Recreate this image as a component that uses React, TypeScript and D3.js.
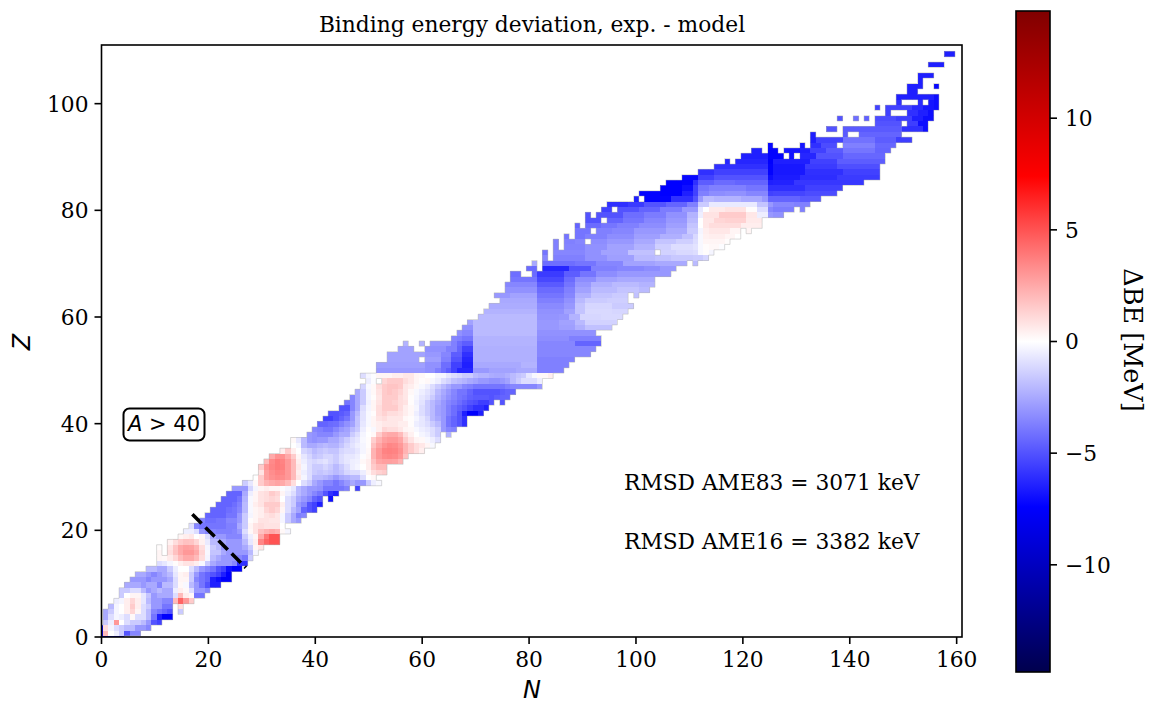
import React from 'react';
import * as d3 from 'd3';

// Z = 0..49, each row holds segments [first N, value, value, ...] in MeV
const lowerRows: number[][][] = [
  [[0, -7, -7, -7, -7, -7]],
  [[0, -7, 2, 0, -.5, -1.5, -5, -3.5, -3.5]],
  [[0, -7, 1, -.3, -1, -1.5, -2, -2, -3, -3, -3.5]],
  [[1, -1.5, -.5, 3, 0, -1, -1.5, -1.5, -2, -3, -5, -5.5]],
  [[1, -2.5, -1, -.3, -.5, -1, .2, -1, -1, -2, -4, -6.5, -7.5, -7.5]],
  [[1, -2.5, -1.5, -.3, 0, .5, 1.2, .3, -1, -2, -3.5, -4, -4.5, -5], [15, -1.5]],
  [[2, -2, -.3, 0, .5, 1.5, .5, -1, -1.5, -3, -3, -4, -4], [15, 1]],
  [[3, -.5, -.3, .5, 1.2, .5, -.7, -2, -3, -3, -3.5, -3.5, 2, 4.5, 3, 1.5]],
  [[4, -1.5, 0, .3, .3, -.7, -1.7, -3, -2.5, -2.5, -2.5, -1, 2, .5, .2, -4, -4]],
  [[4, -1.5, -1.5, -1, -1, -2, -3, -2.5, -2, -2.5, -2.5, -.5, .5, .2, -1, -3, -3, -3.5]],
  [[5, -2.5, -2.5, -2.5, -3, -2.5, -2.5, -3.5, -2, -2, -1, .2, -.2, -2, -3, -4, -5, -6.5, -6.5]],
  [[6, -3, -3, -3, -3.5, -3, -3, -3, -2.5, -1, .3, .3, -1.5, -3.5, -4, -4.5, -6.5, -7, -7.5, -7.5]],
  [[7, -2.5, -2.5, -3, -3.5, -3, -2.5, -2, -.7, .3, .5, -1.5, -3, -4, -4.5, -5, -5.5, -6.5, -7.4]],
  [[9, -2, -2, -2.5, -2.5, -1.5, -.5, 0, 0, -1, -2, -3, -3.5, -4, -5, -5.5, -7, -7.4, -7.4]],
  [[11, -1, -.7, -.3, .1, .5, .8, .8, .5, -.2, -1.5, -2.5, -3, -3, -3, -3.5, -6, -6]],
  [[11, .3, .2, .6, 1.2, 2, 2.5, 2.5, 2, 1, -.3, -2, -2.5, -3, -3, -3, -3.5, -4, -1.5]],
  [[11, .3], [13, 1, 1.8, 2.5, 3, 3, 2.5, 1.2, -.2, -1.7, -1.7, -2.5, -3, -3, -3, -3, -2, -.3]],
  [[11, .1], [13, .8, 1.7, 2.5, 2.8, 2.7, 2.2, 1, -.3, -1.5, -2, -3, -3, -3, -3, -2.5, -1.5, .3, .7]],
  [[13, .4, 1, 1.5, 1.8, 1.7, 1.2, .4, -.6, -2, -2, -2.5, -3, -3, -3, -2, -.7, .5, 3.5, 4.5, 5, 5]],
  [[15, .3, .5, .7, 0, .3, -1, -2.5, -3, -3, -3.5, -3.5, -3.5, -1.5, -.5, .3, 2.5, 4, 5, 5]],
  [[16, -.5, -.5, -1, -3, -3.5, -3.5, -3.7, -3.7, -3.7, -3.5, -3, -1, .2, .8, 1.8, 2.2, 2.5, 2.2, .2, -.3]],
  [[17, -1, -3.5, -4, -4, -4, -4, -4, -3.7, -3.7, -2.5, -1.5, .3, .8, 1, .8, .8, .8, 0]],
  [[19, -3.7, -4.2, -4.2, -4, -4, -3.5, -3.5, -3, -1.5, .1, .3, .8, .8, .7, .7, -.3, -1.5, -2.5, -3]],
  [[20, -4.5, -4.5, -4.5, -4.5, -4, -4, -3, -1.5, -.3, .3, .5, .8, 1, .7, -.3, -1.5, -2.5, -3.7, -3.5]],
  [[21, -4.5, -4.5, -4.5, -4.2, -4, -3.5, -2, -.2, .3, .5, 1.2, 1.5, 1.2, .3, -1, -2, -2.7, -4.5, -5, -5.5]],
  [[22, -4.5, -4.5, -4.5, -4.2, -3.7, -2, -.2, .5, .8, 1.5, 1.5, 1.5, .5, -1, -1.5, -3, -3.5, -5, -5.5, -6.5]],
  [[23, -4.5, -4.5, -4.5, -4, -2.2, -.2, .3, .8, 1, 1.2, 1, 0, -1, -1.5, -2.5, -3, -3.5, -4.5, -5], [43, -7]],
  [[24, -4.5, -4.5, -4.5, -2.5, -.5, .3, .8, 1, 1.5, 1.2, .3, -.5, -1, -2, -2.5, -3, -3.5, -4, -5, -6, -6.5]],
  [[25, -3, -3, -3, -1.2, -.3, .3, .5, .3, .3, -.1, -.3, -.7, -2, -2.5, -3, -3, -3.2, -4, -4, -4, -4, -3.7], [48, -5.5]],
  [[27, -1.5, -.7, .2, 1.5, 2.2, 2.5, 2.7, 2.5, 2, 1, 0, -1, -1.5, -2.5, -3, -3.5, -3.5, -4, -3.5, -3, -2.5, -3, -3, -1.5, -.5, -.2]],
  [[29, 0, 1.5, 2.8, 3.2, 3.4, 3.3, 3, 2, .7, -.3, -1, -2, -2, -2.2, -2.5, -3, -2.5, -2.3, -2, -2, -1, 0, .2]],
  [[30, .8, 2.8, 3.3, 3.6, 3.5, 3, 2, .5, -.5, -1, -1.5, -1.7, -1.5, -1.7, -2, -1.7, -1.2, -1, -1, -.5, .3, 1, 1.3, 1.5]],
  [[30, 1.5, 3, 3.5, 3.8, 3.7, 3, 2, .7, -.3, -1, -1.5, -1.5, -1.2, -1.5, -2, -1.5, -1, -.5, -.3, 0, .5, 1.5, 2, 2]],
  [[31, 2, 3.4, 3.8, 3.6, 3, 2, .5, -.5, -1, -1.2, -1, -.8, -1.2, -1.5, -1, -.7, -.5, -.4, .2, .5, 1.8, 2.6, 2.8, 2.8, 2.7, 2.2]],
  [[32, 2.5, 3.2, 3.2, 2.5, 1.5, .3, -.7, -1.2, -1.7, -1.5, -1.2, -1.2, -1.5, -1, -.7, -.7, -.5, -.1, .3, 2.2, 3, 3.4, 3.5, 3.4, 3, 1.8]],
  [[34, .5, 1.5, .5, 0, -1.2, -1.5, -2, -1.7, -1.5, -1.7, -1.7, -1.2, -1, -1, -.7, -.3, .2, 2.2, 3, 3.6, 3.7, 3.6, 3.2, 2.2, 1.5, 1, .5]],
  [[36, 0, -.3, -2, -2.5, -2.5, -2.2, -2, -2.2, -2.2, -1.7, -1.2, -.8, -.5, -.3, .1, 1.8, 2.6, 3.2, 3.5, 3.4, 3, 2.2, 1.5, 1, .7, .3, -.2]],
  [[36, .2, -.7, -2, -3, -3.2, -3, -3, -2.5, -2.5, -2, -1.5, -1, -.7, -.2, .1, 1.4, 2.2, 2.8, 3, 3, 2.6, 1.5, .8, .3, .2, -.2, -.5, -1]],
  [[39, -3, -3.2, -3.5, -3.5, -3.5, -3, -2.5, -2.5, -1.5, -1, -.3, 0, .2, 1.5, 2.3, 2.5, 2.5, 2, 1, .4, 0, -.3, -.5, -1, -1.5], [65, -2.2]],
  [[40, -3.5, -3.7, -4, -4, -3.5, -3, -2.7, -2, -1.5, -.5, .1, -.2, .5, 1.2, 1, 1, .7, .3, .2, -.2, -.5, -.7, -1, -1.5, -3, -3.5, -3.7]],
  [[41, -4.5, -4.5, -4.3, -4.2, -3.7, -3.2, -2.7, -1.7, -.7, -.2, .3, .5, .7, .7, .7, .5, .5, .1, -.5, -.7, -1, -1.5, -2, -3, -4, -4.5, -5, -6]],
  [[42, -5.5, -5.5, -5, -4.5, -4, -3, -1.7, -.8, -.2, .3, .8, 1, .7, .7, .7, .2, .1, -.3, -.7, -1.2, -2, -2.5, -3, -4, -4.5, -5, -6]],
  [[43, -5, -5, -4.8, -4.5, -3, -2, -.8, -.2, .1, 1, 1.3, 1, 1, .8, .5, .2, -.5, -1, -1.5, -2, -2.7, -3, -3.7, -4.2, -5, -6.5, -7.5, -7.5, -6.5]],
  [[45, -5, -5, -3.5, -2.5, -1, -.3, .3, 1, 1.5, 1.5, 1.5, 1, .5, .2, -.3, -1, -1.5, -2, -2.7, -3, -3.7, -4.2, -4.6, -5, -5.5, -6, -6, -6.5]],
  [[46, -4, -3.5, -2.5, -1.5, -.4, .3, .8, 1.5, 1.5, 1.3, 1, .8, .1, -.4, -.8, -1.5, -2, -2.5, -3, -3.5, -3.8, -4.2, -4.6, -5, -5.2, -5.6, -5.6, -5], [75, -5]],
  [[47, -3.5, -2.5, -1.5, -.3, .1, .7, 1.5, 1.5, 1.5, 1, .7, .1, -.3, -.7, -1, -1.5, -2.2, -2.7, -3.2, -3.6, -4, -4.2, -4.6, -4.8, -4.8, -4.8, -5, -4.7, -4.5, -4.5]],
  [[48, -2.5, -1.5, -.3, .2, .8, 1.5, 1.7, 1.5, 1.2, .7, .2, -.2, -.5, -.8, -1.2, -2, -2.5, -3, -3.5, -4, -4, -4.5, -5, -5, -5, -5, -5, -4.7, -4.5, -4.5]],
  [[49, -1.2, -.2, .2, 1, 1.5, 1.7, 1.7, 1.5, .7, .5, .2, -.2, -.5, -1, -1.5, -2, -2.5, -3, -3, -3.5, -3.7, -4, -4, -4, -4, -4, -4, -3.7, -3.5, -3.5, -3.5, -3.5, -3.5, -3]],
  [[50, -.5, -.1], [53, 1.2, 1.5, 1.5, 1.5, 1, .7, .3, .1, .2, -.2, -.5, -1, -1.3, -1.8, -2, -2.2, -2.5, -2.7, -3, -3, -3.2, -3.2, -3, -2.7, -2, -1.5, -1, -1, -1, -.5]],
  [[49, -1, -.3, -.1, .3, .3, .3, .5, .5, .7, .7, .3, .2, 0, 0, -.3, -.3, -.7, -1, -1.2, -1.5, -1.5, -2, -2.2, -2.2, -2.4, -2.5, -2.5, -2.3, -2, -1.7, -1.5, -.7, -.2, .2, .2, .5]],
];

// Z = 50..109, each row holds runs [first N, last N, value] in MeV
const upperRows: number[][][] = [
  [[52, 60, -3], [61, 62, -3.2], [63, 63, -3.7], [64, 64, -4.2], [65, 65, -4.7], [66, 66, -5.5], [67, 69, -6.3], [70, 72, -3], [73, 77, -2.7], [78, 81, -2.5], [82, 86, -3.7]],
  [[52, 60, -2.8], [61, 63, -3.2], [64, 65, -4.2], [66, 67, -5.5], [68, 69, -6.5], [70, 78, -2.5], [79, 81, -2.2], [82, 87, -3.7]],
  [[54, 59, -2.7], [61, 63, -2.8], [64, 65, -3.7], [66, 67, -5], [68, 69, -6.3], [70, 81, -2.3], [82, 88, -3.7]],
  [[54, 60, -2.7], [61, 63, -3], [64, 65, -3.5], [66, 67, -4.7], [68, 69, -6], [70, 81, -2.3], [82, 91, -3.5]],
  [[56, 58, -2.7], [61, 64, -3.2], [65, 66, -3.7], [67, 67, -4.5], [68, 69, -5.5], [70, 81, -2.3], [82, 92, -3.5]],
  [[57, 57, -2.2], [60, 60, -2.2], [62, 65, -3], [66, 66, -3.7], [67, 67, -4.3], [68, 69, -4.7], [70, 81, -2.2], [82, 88, -3.5], [89, 93, -4.5]],
  [[66, 66, -3.5], [67, 67, -3.7], [68, 69, -4], [70, 81, -2.2], [82, 87, -3.3], [88, 93, -3.7]],
  [[67, 67, -3.2], [68, 69, -3.5], [70, 81, -2], [82, 87, -3.2], [88, 92, -3.2]],
  [[68, 69, -3.2], [70, 81, -2], [82, 85, -3], [86, 88, -2.8], [89, 90, -2.3], [91, 95, -1.8]],
  [[69, 69, -2.7], [70, 81, -2], [82, 85, -3], [86, 88, -2.7], [89, 90, -2], [91, 96, -1.3]],
  [[71, 81, -2], [82, 85, -3.1], [86, 87, -3], [88, 89, -2.2], [90, 93, -1.2], [94, 97, -1.1]],
  [[72, 81, -2.2], [82, 86, -3.2], [87, 88, -2.7], [89, 90, -1.7], [91, 95, -1.1], [96, 98, -1.2]],
  [[73, 81, -2.4], [82, 86, -3.4], [87, 88, -3], [89, 90, -1.7], [91, 95, -1.2], [96, 99, -1.5]],
  [[75, 81, -2.5], [82, 86, -3.7], [87, 88, -3.2], [89, 90, -2], [91, 94, -1.5], [95, 98, -1.4]],
  [[74, 76, -3], [77, 81, -2.7], [82, 86, -4], [87, 88, -3.5], [89, 91, -2.3], [92, 95, -1.7], [96, 98, -1.5], [100, 100, -1.8]],
  [[76, 81, -3.2], [82, 86, -4.3], [87, 88, -3.7], [89, 91, -2.7], [92, 96, -2], [97, 100, -1.7], [101, 102, -2]],
  [[76, 81, -3.5], [82, 86, -4.8], [87, 88, -4], [89, 91, -3], [92, 95, -2.3], [96, 100, -2], [101, 103, -2.2]],
  [[77, 81, -4], [82, 86, -5.3], [87, 88, -4.3], [89, 92, -3.3], [93, 96, -2.7], [97, 103, -2.5]],
  [[77, 78, -4.2], [81, 81, -4.3], [82, 86, -5.7], [87, 89, -4.7], [90, 92, -4], [93, 96, -3.3], [97, 106, -3]],
  [[80, 81, -4.3], [83, 87, -6.3], [88, 91, -5], [92, 96, -3.7], [97, 101, -3.5], [102, 104, -3.3], [105, 107, -3]],
  [[81, 81, -2.5], [83, 88, -4.2], [89, 92, -4], [93, 97, -3.5], [98, 103, -2.7], [104, 109, -2.5], [111, 111, -2]],
  [[83, 83, -3.5], [85, 90, -3.7], [91, 94, -3.2], [95, 99, -2.8], [100, 103, -2], [104, 106, -1.8], [107, 110, -1.6], [111, 112, -1.5], [113, 113, -1.2]],
  [[83, 83, -4], [85, 90, -3.5], [91, 93, -3.2], [94, 98, -2.7], [99, 103, -1.8], [105, 107, -1.3], [108, 110, -1.1], [111, 111, -1], [112, 112, -.2], [113, 113, .1], [114, 114, -.3]],
  [[85, 85, -3.7], [87, 90, -3.6], [91, 94, -3.2], [95, 99, -2.7], [100, 103, -2.2], [104, 106, -1.4], [107, 110, -1], [111, 111, -.8], [112, 112, -.2], [113, 113, .1], [114, 115, .2], [116, 116, -.1]],
  [[85, 85, -3.7], [87, 88, -3.7], [89, 90, -3.5], [92, 94, -3.3], [95, 99, -3], [100, 103, -2.5], [104, 107, -1.7], [108, 110, -1.4], [111, 111, -1], [112, 112, -.2], [113, 116, .3], [117, 117, .1]],
  [[87, 87, -4], [89, 90, -4], [91, 94, -3.7], [95, 99, -3.3], [100, 104, -2.8], [105, 108, -2.3], [109, 110, -1.8], [111, 111, -1.1], [112, 112, -.2], [113, 113, .4], [114, 116, .5], [117, 118, .3], [119, 119, 0]],
  [[89, 91, -4], [93, 95, -3.7], [96, 99, -3.5], [100, 105, -3], [106, 109, -2.5], [110, 111, -1.5], [112, 112, -.3], [113, 113, .5], [114, 117, .7], [118, 119, .3], [121, 121, .3]],
  [[89, 89, -4.5], [91, 93, -4.3], [94, 96, -4], [97, 100, -3.7], [101, 105, -3.3], [106, 109, -2.8], [110, 111, -1.7], [112, 112, 0], [113, 113, .7], [114, 119, 1], [120, 123, .5]],
  [[91, 93, -5], [95, 97, -4.5], [98, 101, -4], [102, 105, -3.5], [106, 109, -3], [110, 111, -2], [112, 112, 0], [113, 114, .7], [115, 116, 1.2], [117, 120, 1.3], [121, 123, .6]],
  [[91, 91, -5], [93, 97, -5], [98, 101, -4.2], [102, 105, -3.8], [106, 109, -3.2], [110, 111, -2.2], [112, 112, -.5], [113, 115, .8], [116, 120, 1.5], [121, 122, .7], [123, 124, -.5], [125, 125, -3], [126, 127, -3.2]],
  [[94, 95, -5.5], [97, 100, -5], [101, 104, -4.5], [105, 108, -3.8], [109, 111, -3], [112, 112, -.7], [113, 113, 0], [114, 116, .6], [117, 120, .8], [121, 122, .1], [123, 124, -1], [125, 125, -3.5], [126, 129, -3.8], [131, 131, -3.7]],
  [[95, 98, -6], [99, 101, -5.7], [102, 105, -5], [106, 109, -4.5], [110, 111, -3.7], [112, 113, -1.5], [114, 122, -.6], [123, 124, -1.7], [125, 125, -3], [126, 129, -3.5], [130, 132, -3.7]],
  [[100, 100, -6.5], [102, 106, -7.3], [107, 110, -6], [111, 111, -5], [112, 112, -3], [113, 114, -2], [115, 119, -2.2], [120, 123, -2.5], [124, 124, -3], [125, 130, -4.5], [131, 134, -4.8]],
  [[101, 104, -7.3], [105, 108, -7.4], [109, 110, -6.5], [111, 111, -5.5], [112, 113, -3.7], [114, 116, -3.3], [117, 120, -3.2], [121, 124, -3.5], [125, 125, -5.5], [126, 131, -5.4], [132, 137, -5.2]],
  [[105, 108, -7.4], [109, 110, -7], [111, 111, -5.5], [112, 113, -4], [114, 120, -3.7], [121, 124, -4], [125, 125, -6], [126, 131, -6], [132, 138, -5.5]],
  [[106, 108, -7.4], [109, 110, -7.3], [111, 111, -6], [112, 114, -4.7], [115, 118, -4.3], [119, 124, -4.5], [125, 125, -6.5], [126, 129, -6.4], [130, 142, -5.8]],
  [[109, 111, -7.2], [112, 114, -5.5], [115, 124, -5], [125, 125, -7], [126, 130, -6.6], [131, 137, -6.1], [138, 145, -5.7]],
  [[112, 114, -6], [115, 124, -5.5], [125, 125, -7.3], [126, 131, -6.7], [132, 138, -6], [139, 145, -5.5]],
  [[115, 116, -6], [117, 124, -6], [125, 125, -7.3], [126, 131, -6.7], [132, 137, -5.7], [138, 145, -5.1]],
  [[117, 117, -6.3], [119, 124, -6.3], [125, 125, -7.4], [126, 132, -6.5], [133, 137, -5.5], [138, 146, -4.7]],
  [[120, 124, -6.5], [125, 127, -7.3], [129, 129, -6.9], [131, 133, -6.3], [134, 138, -5], [139, 146, -4.4]],
  [[122, 123, -6.5], [125, 126, -7.3], [128, 130, -6.8], [131, 132, -6.5], [133, 135, -5.5], [136, 138, -4.8], [139, 144, -4], [145, 147, -4.5]],
  [[125, 125, -7.2], [131, 131, -6.8], [133, 134, -6], [135, 137, -5.2], [139, 144, -3.7], [145, 148, -4.4]],
  [[133, 133, -6.5], [134, 138, -5.5], [139, 144, -4.1], [145, 148, -4.7], [149, 151, -5.6]],
  [[133, 133, -6.5], [139, 139, -4.8], [142, 149, -4.5]],
  [[136, 137, -5], [139, 149, -4.8], [150, 153, -6], [154, 154, -7]],
  [[145, 149, -5], [151, 152, -5.6], [153, 154, -7]],
  [[138, 138, -5], [141, 141, -4.2], [143, 143, -4.6], [145, 148, -5.2], [149, 151, -5.6], [152, 153, -6.5], [154, 155, -7]],
  [[147, 147, -5.5], [151, 152, -6], [153, 154, -6.5], [155, 155, -7]],
  [[145, 145, -5.5], [147, 151, -5.5], [152, 153, -6.2], [154, 155, -6.8], [156, 156, -7]],
  [[149, 149, -6], [153, 153, -6.2], [155, 155, -6.8], [156, 156, -7]],
  [[149, 155, -6.5], [156, 156, -7]],
  [[151, 152, -6.5]],
  [[151, 153, -6.5], [156, 156, -7.2]],
  [[153, 153, -6.5]],
  [[153, 155, -6.5]],
  [],
  [[155, 157, -6.5]],
  [],
  [[158, 159, -6.5]],
];

const xTicks = [0, 20, 40, 60, 80, 100, 120, 140, 160];
const yTicks = [0, 20, 40, 60, 80, 100];
const barTicks = [-10, -5, 0, 5, 10];
const rmsdLabels = ['RMSD AME83 = 3071 keV', 'RMSD AME16 = 3382 keV'];

const SERIF = '"DejaVu Serif", serif';
const SANS = '"DejaVu Sans", sans-serif';
const FONT = 21.75;
const LIMIT = 14.8;

const x = d3.scaleLinear().domain([0, 161]).range([101.5, 962]);
const y = d3.scaleLinear().domain([0, 111]).range([637, 45]);
// mesh edges are a little wider than one unit and start below zero
const edgeX = (k: number) => x(-0.72 + 1.0027 * k);
const edgeY = (k: number) => y(-0.8 + 1.0055 * k);

const barY = d3.scaleLinear().domain([-LIMIT, LIMIT]).range([672, 11]);
const color = d3
  .scaleLinear<string>()
  .domain([-LIMIT, -LIMIT / 2, 0, LIMIT / 2, LIMIT])
  .range(['#00004d', '#0000ff', '#ffffff', '#ff0000', '#800000']);

type Cell = { n: number; z: number; v: number };

function buildCells(): Cell[] {
  const cells: Cell[] = [];
  lowerRows.forEach((row, z) => {
    row.forEach(([first, ...values]) => {
      values.forEach((v, i) => cells.push({ n: first + i, z, v }));
    });
  });
  upperRows.forEach((row, i) => {
    row.forEach(([from, to, v]) => {
      d3.range(from, to + 1).forEach((n) => cells.push({ n, z: i + 50, v }));
    });
  });
  return cells;
}

const cells = buildCells();

function outlinePath(): string {
  const filled = new Set(cells.map((c) => `${c.n},${c.z}`));
  const p = d3.path();
  cells.forEach(({ n, z }) => {
    const x0 = edgeX(n), x1 = edgeX(n + 1), y0 = edgeY(z), y1 = edgeY(z + 1);
    if (!filled.has(`${n - 1},${z}`)) { p.moveTo(x0, y0); p.lineTo(x0, y1); }
    if (!filled.has(`${n + 1},${z}`)) { p.moveTo(x1, y0); p.lineTo(x1, y1); }
    if (!filled.has(`${n},${z - 1}`)) { p.moveTo(x0, y0); p.lineTo(x1, y0); }
    if (!filled.has(`${n},${z + 1}`)) { p.moveTo(x0, y1); p.lineTo(x1, y1); }
  });
  return p.toString();
}

const fmt = (v: number) => (v < 0 ? `\u2212${-v}` : `${v}`);

export default function App() {
  return (
    <svg width={1153} height={704} style={{ position: 'absolute', left: 0, top: 0, background: '#fff' }}>
      <defs>
        <clipPath id="plot-clip">
          <rect x={x(0)} y={y(111)} width={x(161) - x(0)} height={y(0) - y(111)} />
        </clipPath>
        <linearGradient id="bar-gradient" x1="0%" x2="0%" y1="100%" y2="0%">
          {color.domain().map((d, i) => (
            <stop key={i} offset={`${(i / 4) * 100}%`} stopColor={color(d)} />
          ))}
        </linearGradient>
      </defs>

      <g clipPath="url(#plot-clip)">
        {cells.map((c) => (
          <rect
            key={`${c.n}-${c.z}`}
            x={edgeX(c.n)}
            y={edgeY(c.z + 1)}
            width={edgeX(c.n + 1) - edgeX(c.n)}
            height={edgeY(c.z) - edgeY(c.z + 1)}
            fill={color(c.v)}
            shapeRendering="crispEdges"
          />
        ))}
        <path d={outlinePath()} fill="none" stroke="#b4b4b4" strokeWidth={0.7} opacity={0.7} />
        <line
          x1={x(17)}
          y1={y(23)}
          x2={x(27)}
          y2={y(13)}
          stroke="#000"
          strokeWidth={3.6}
          strokeDasharray="13 5.5"
        />
      </g>

      <rect
        x={x(0)}
        y={y(111)}
        width={x(161) - x(0)}
        height={y(0) - y(111)}
        fill="none"
        stroke="#000"
        strokeWidth={1.6}
      />

      {xTicks.map((t) => (
        <g key={t} transform={`translate(${x(t)},637)`}>
          <line y2={7} stroke="#000" strokeWidth={1.6} />
          <text y={30} textAnchor="middle" fontFamily={SERIF} fontSize={FONT}>{t}</text>
        </g>
      ))}
      {yTicks.map((t) => (
        <g key={t} transform={`translate(101.5,${y(t)})`}>
          <line x2={-7} stroke="#000" strokeWidth={1.6} />
          <text x={-13} dy="0.36em" textAnchor="end" fontFamily={SERIF} fontSize={FONT}>{t}</text>
        </g>
      ))}

      <text x={532} y={698} textAnchor="middle" fontFamily={SANS} fontStyle="italic" fontSize={24}>N</text>
      <text
        transform="translate(30,342) rotate(-90)"
        textAnchor="middle"
        fontFamily={SANS}
        fontStyle="italic"
        fontSize={24}
      >
        Z
      </text>
      <text x={532} y={32} textAnchor="middle" fontFamily={SERIF} fontSize={FONT}>
        Binding energy deviation, exp. - model
      </text>

      <rect x={123.5} y={408.5} width={81} height={32} rx={6} fill="#fff" stroke="#000" strokeWidth={2} />
      <text x={164} y={431} textAnchor="middle" fontFamily={SANS} fontSize={21}>
        <tspan fontStyle="italic">A</tspan> &gt; 40
      </text>

      {rmsdLabels.map((s, i) => (
        <text key={s} x={624} y={490 + i * 59} fontFamily={SERIF} fontSize={FONT}>{s}</text>
      ))}

      <rect x={1016} y={11} width={34} height={661} fill="url(#bar-gradient)" stroke="#000" strokeWidth={1.6} />
      {barTicks.map((t) => (
        <g key={t} transform={`translate(1050,${barY(t)})`}>
          <line x2={7} stroke="#000" strokeWidth={1.6} />
          <text x={15} dy="0.36em" fontFamily={SERIF} fontSize={FONT}>{fmt(t)}</text>
        </g>
      ))}
      <text
        transform="translate(1124,340) rotate(90)"
        textAnchor="middle"
        fontFamily={SERIF}
        fontSize={25.5}
      >
        {'\u0394BE [MeV]'}
      </text>
    </svg>
  );
}
